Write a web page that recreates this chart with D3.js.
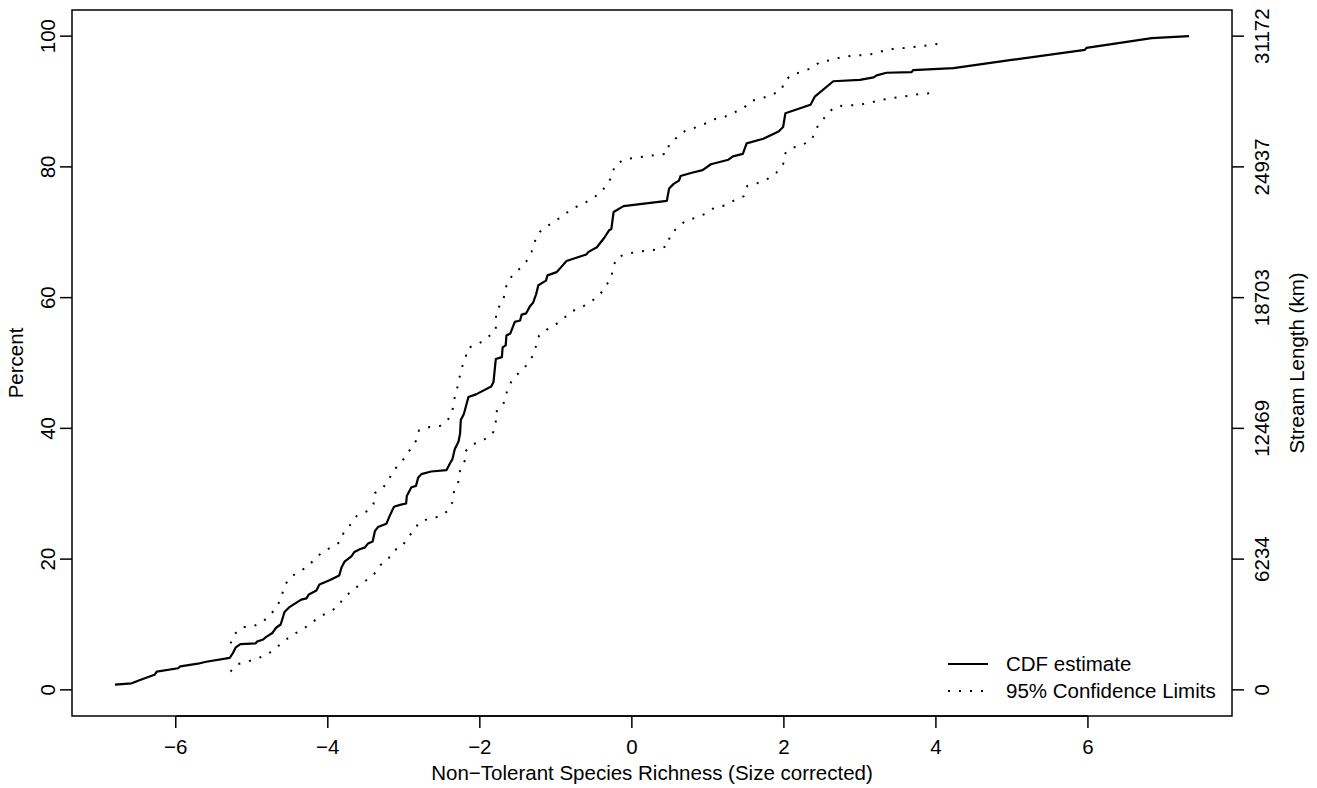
<!DOCTYPE html>
<html><head><meta charset="utf-8">
<script src="https://cdn.jsdelivr.net/npm/d3@7"></script>
<style>body{margin:0;background:#fff}svg{display:block}text{font-family:"Liberation Sans",Arial,sans-serif;fill:#000}</style>
</head><body><svg id="c" width="1317" height="788"></svg>
<script>
const cdfX=[-6.80,-6.58,-6.47,-6.28,-6.25,-5.97,-5.94,-5.71,-5.60,-5.29,-5.25,-5.21,-5.15,-4.95,-4.93,-4.85,-4.81,-4.73,-4.68,-4.62,-4.57,-4.50,-4.35,-4.28,-4.25,-4.15,-4.11,-3.97,-3.85,-3.82,-3.78,-3.69,-3.65,-3.58,-3.51,-3.47,-3.41,-3.38,-3.34,-3.23,-3.19,-3.13,-3.05,-2.97,-2.96,-2.90,-2.84,-2.81,-2.77,-2.64,-2.44,-2.39,-2.36,-2.33,-2.28,-2.26,-2.25,-2.21,-2.15,-2.05,-1.85,-1.82,-1.79,-1.71,-1.70,-1.66,-1.65,-1.60,-1.54,-1.47,-1.45,-1.39,-1.34,-1.30,-1.26,-1.23,-1.13,-1.11,-0.99,-0.95,-0.86,-0.60,-0.57,-0.46,-0.36,-0.30,-0.27,-0.24,-0.11,0.46,0.49,0.55,0.62,0.64,0.79,0.93,1.04,1.27,1.33,1.46,1.51,1.73,1.93,1.99,2.02,2.35,2.41,2.65,3.00,3.18,3.22,3.35,3.68,3.70,4.23,5.02,5.96,5.98,6.84,7.33];
const cdfY=[0.8,1.0,1.5,2.3,2.8,3.3,3.6,4.0,4.3,4.9,5.6,6.5,7.0,7.1,7.4,7.7,8.1,8.7,9.5,10.0,11.9,12.7,13.8,14.0,14.6,15.2,16.1,16.8,17.5,18.7,19.6,20.4,21.1,21.5,21.8,22.4,22.7,24.3,24.9,25.4,26.5,28.0,28.3,28.5,29.7,31.0,31.2,32.5,33.0,33.4,33.6,34.7,35.3,36.8,38.0,39.2,41.3,42.2,44.8,45.2,46.4,47.1,50.6,50.9,52.4,52.7,54.2,54.5,56.3,56.5,57.4,57.6,58.7,59.2,60.5,61.9,62.6,63.4,63.9,64.4,65.6,66.6,67.0,67.7,69.2,70.3,70.5,73.1,74.0,74.8,76.7,77.4,77.9,78.6,79.1,79.5,80.4,81.1,81.6,82.0,83.6,84.3,85.4,86.1,88.2,89.5,90.8,93.1,93.3,93.7,94.0,94.4,94.5,94.8,95.1,96.4,97.9,98.2,99.7,100];
const upperX=[-5.28,-5.23,-5.12,-4.99,-4.87,-4.76,-4.68,-4.61,-4.58,-4.51,-4.40,-4.28,-4.18,-4.08,-3.96,-3.84,-3.79,-3.70,-3.62,-3.49,-3.40,-3.38,-3.27,-3.20,-3.14,-3.06,-2.99,-2.91,-2.84,-2.80,-2.66,-2.52,-2.42,-2.36,-2.34,-2.30,-2.27,-2.24,-2.19,-2.16,-2.02,-1.90,-1.79,-1.79,-1.78,-1.70,-1.67,-1.64,-1.57,-1.47,-1.39,-1.32,-1.28,-1.22,-1.12,-1.01,-0.90,-0.79,-0.65,-0.54,-0.42,-0.33,-0.26,-0.23,-0.11,0.03,0.17,0.31,0.46,0.49,0.60,0.70,0.83,0.96,1.09,1.23,1.36,1.47,1.57,1.71,1.84,1.97,2.01,2.11,2.25,2.38,2.48,2.62,2.76,2.89,3.04,3.18,3.32,3.46,3.61,3.75,3.89,4.02];
const upperY=[7.1,8.5,9.6,9.7,10.3,11.4,12.6,14.0,15.7,17.0,18.0,18.7,19.9,21.0,21.8,22.6,24.1,25.3,26.6,27.3,28.4,30.1,31.0,32.1,33.5,34.5,35.5,36.9,38.1,39.7,40.2,40.4,41.3,42.7,44.3,46.0,47.6,49.2,50.7,52.3,52.9,53.9,55.0,56.6,58.1,59.3,60.7,62.4,63.4,64.5,65.5,67.0,68.5,70.0,70.9,71.7,72.6,73.6,74.3,75.0,76.0,77.2,78.6,80.1,81.1,81.4,81.6,81.8,82.0,83.4,84.6,85.5,86.0,86.6,87.3,87.7,88.4,89.0,90.1,90.5,91.0,91.8,93.2,94.1,94.6,95.2,96.1,96.3,96.8,97.0,97.1,97.3,97.8,98.1,98.2,98.4,98.6,98.8];
const lowerX=[-5.28,-5.19,-5.06,-4.93,-4.81,-4.69,-4.58,-4.47,-4.35,-4.24,-4.13,-4.01,-3.89,-3.81,-3.71,-3.60,-3.49,-3.39,-3.32,-3.21,-3.14,-3.02,-2.96,-2.87,-2.80,-2.67,-2.53,-2.43,-2.36,-2.34,-2.28,-2.26,-2.20,-2.18,-2.08,-1.94,-1.83,-1.79,-1.79,-1.70,-1.66,-1.63,-1.56,-1.47,-1.39,-1.31,-1.26,-1.22,-1.12,-1.00,-0.89,-0.79,-0.65,-0.54,-0.43,-0.35,-0.27,-0.25,-0.20,-0.07,0.07,0.21,0.36,0.48,0.50,0.60,0.70,0.83,0.96,1.08,1.22,1.35,1.47,1.52,1.65,1.79,1.90,1.99,2.01,2.11,2.25,2.37,2.42,2.51,2.60,2.70,2.85,2.99,3.13,3.26,3.41,3.55,3.69,3.83,3.97];
const lowerY=[2.8,3.9,4.3,4.8,5.3,6.3,7.4,8.4,9.1,10.0,11.0,11.8,12.5,13.7,14.9,15.9,16.8,17.7,19.0,19.9,21.3,21.9,23.2,24.3,25.6,26.2,26.5,27.3,28.7,30.3,31.9,33.5,35.0,36.6,37.6,38.3,39.2,40.7,42.5,43.4,44.8,46.3,47.6,48.7,49.6,51.0,52.6,54.2,55.1,55.9,56.9,57.9,58.6,59.4,60.3,61.7,63.0,64.5,66.1,66.7,67.0,67.2,67.4,68.0,69.6,70.7,71.7,72.2,72.8,73.7,74.1,74.9,75.5,77.1,77.5,78.2,79.1,80.4,82.0,82.9,83.4,84.2,85.8,87.2,88.5,89.3,89.4,89.5,89.8,90.2,90.5,90.7,91.0,91.2,91.3];
const xTicks=[-6,-4,-2,0,2,4,6];
const yTicks=[0,20,40,60,80,100];
const rightTickLabels=["0","6234","12469","18703","24937","31172"];
const legendLabels=["CDF estimate","95% Confidence Limits"];
const xTitle="Non\u2212Tolerant Species Richness (Size corrected)";
const yTitle="Percent";
const y2Title="Stream Length (km)";

const svg=d3.select("#c");
const L=72,R=1232,T=10,B=716;
const xmin=d3.min(cdfX),xmax=d3.max(cdfX),xr=xmax-xmin;
const x=d3.scaleLinear().domain([xmin-0.04*xr,xmax+0.04*xr]).range([L,R]);
const y=d3.scaleLinear().domain([-4,104]).range([B,T]);
const FS=20.5;

svg.append("rect").attr("x",L).attr("y",T).attr("width",R-L).attr("height",B-T).attr("fill","none").attr("stroke","#000").attr("stroke-width",1.5);

// x axis
const xa=svg.append("g");
xa.append("line").attr("x1",x(xTicks[0])).attr("x2",x(xTicks[xTicks.length-1])).attr("y1",B).attr("y2",B).attr("stroke","#000").attr("stroke-width",1.5);
xTicks.forEach(t=>{
  xa.append("line").attr("x1",x(t)).attr("x2",x(t)).attr("y1",B).attr("y2",B+12).attr("stroke","#000").attr("stroke-width",1.5);
  xa.append("text").attr("x",x(t)).attr("y",754).attr("text-anchor","middle").attr("font-size",FS).text(d3.format("d")(t));
});
svg.append("text").attr("x",(L+R)/2).attr("y",780).attr("text-anchor","middle").attr("font-size",FS).text(xTitle);

// left axis
yTicks.forEach(t=>{
  svg.append("line").attr("x1",L-12).attr("x2",L).attr("y1",y(t)).attr("y2",y(t)).attr("stroke","#000").attr("stroke-width",1.5);
  svg.append("text").attr("transform",`translate(55,${y(t)}) rotate(-90)`).attr("text-anchor","middle").attr("font-size",FS).text(t);
});
svg.append("text").attr("transform",`translate(23,${(T+B)/2}) rotate(-90)`).attr("text-anchor","middle").attr("font-size",FS).text(yTitle);

// right axis
yTicks.forEach((t,i)=>{
  svg.append("line").attr("x1",R).attr("x2",R+12).attr("y1",y(t)).attr("y2",y(t)).attr("stroke","#000").attr("stroke-width",1.5);
  svg.append("text").attr("transform",`translate(1269,${y(t)}) rotate(-90)`).attr("text-anchor","middle").attr("font-size",FS).text(rightTickLabels[i]);
});
svg.append("text").attr("transform",`translate(1304,${(T+B)/2}) rotate(-90)`).attr("text-anchor","middle").attr("font-size",FS).text(y2Title);

const line=d3.line().x(d=>x(d[0])).y(d=>y(d[1]));
svg.append("path").attr("d",line(d3.zip(upperX,upperY))).attr("fill","none").attr("stroke","#000").attr("stroke-width",2).attr("stroke-dasharray","2,9");
svg.append("path").attr("d",line(d3.zip(lowerX,lowerY))).attr("fill","none").attr("stroke","#000").attr("stroke-width",2).attr("stroke-dasharray","2,9");
svg.append("path").attr("d",line(d3.zip(cdfX,cdfY))).attr("fill","none").attr("stroke","#000").attr("stroke-width",2.2).attr("stroke-linejoin","round");

// legend
const lg=svg.append("g");
lg.append("line").attr("x1",948).attr("x2",988).attr("y1",664).attr("y2",664).attr("stroke","#000").attr("stroke-width",2.2);
lg.append("line").attr("x1",948).attr("x2",990).attr("y1",691).attr("y2",691).attr("stroke","#000").attr("stroke-width",2).attr("stroke-dasharray","2,9");
lg.append("text").attr("x",1006).attr("y",671).attr("font-size",FS).text(legendLabels[0]);
lg.append("text").attr("x",1006).attr("y",698).attr("font-size",FS).text(legendLabels[1]);
</script></body></html>
